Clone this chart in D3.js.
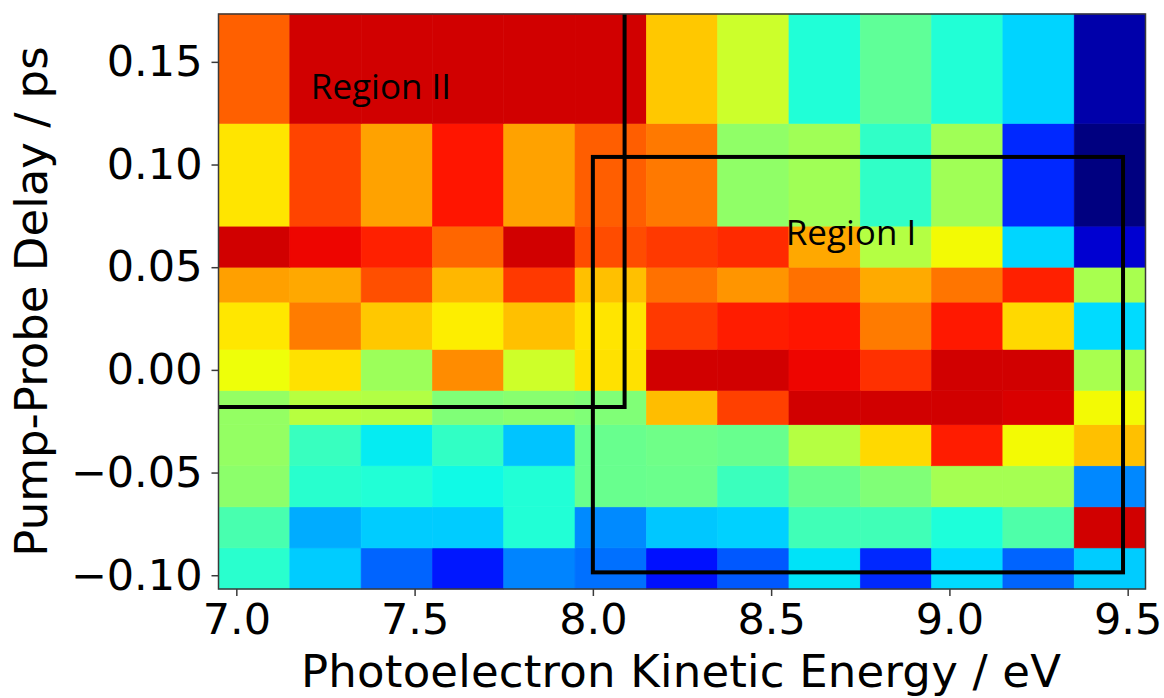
<!DOCTYPE html>
<html>
<head>
<meta charset="utf-8">
<script src="https://cdn.jsdelivr.net/npm/d3@7"></script>
<style>
  html, body { margin: 0; padding: 0; background: #fff; }
  svg { display: block; }
</style>
</head>
<body>
<svg id="chart" width="1164" height="698"></svg>
<script>
// ---------------- data ----------------
const energyCenters = [7.05, 7.25, 7.45, 7.65, 7.85, 8.05, 8.25, 8.45, 8.65, 8.85, 9.05, 9.25, 9.45];
const energyBinWidth = 0.2;
// delay bin edges (ps), bottom to top
const delayEdges = [-0.1067, -0.0867, -0.0667, -0.0467, -0.0267, -0.0100, 0.0100, 0.0330, 0.0500, 0.0700, 0.1200, 0.1733];
// normalised signal (0..1, jet colour map), rows bottom (lowest delay) to top
const intensity = [
  [0.40, 0.325, 0.223, 0.148, 0.254, 0.235, 0.141, 0.211, 0.348, 0.164, 0.340, 0.223, 0.325],
  [0.437, 0.294, 0.325, 0.325, 0.390, 0.260, 0.320, 0.330, 0.428, 0.428, 0.385, 0.445, 0.930],
  [0.52, 0.399, 0.390, 0.370, 0.390, 0.477, 0.480, 0.420, 0.477, 0.505, 0.550, 0.550, 0.258],
  [0.53, 0.418, 0.356, 0.410, 0.317, 0.477, 0.485, 0.477, 0.570, 0.680, 0.880, 0.645, 0.707],
  [0.53, 0.573, 0.567, 0.505, 0.515, 0.505, 0.710, 0.842, 0.930, 0.930, 0.930, 0.923, 0.645],
  [0.639, 0.672, 0.540, 0.762, 0.600, 0.672, 0.930, 0.930, 0.905, 0.859, 0.930, 0.930, 0.554],
  [0.665, 0.779, 0.698, 0.658, 0.707, 0.668, 0.850, 0.880, 0.888, 0.780, 0.885, 0.680, 0.340],
  [0.741, 0.732, 0.826, 0.716, 0.850, 0.707, 0.790, 0.752, 0.790, 0.730, 0.786, 0.876, 0.554],
  [0.930, 0.905, 0.876, 0.802, 0.930, 0.830, 0.850, 0.866, 0.732, 0.569, 0.645, 0.335, 0.070],
  [0.667, 0.838, 0.739, 0.888, 0.739, 0.810, 0.782, 0.525, 0.545, 0.408, 0.545, 0.164, 0.000],
  [0.808, 0.930, 0.930, 0.930, 0.930, 0.930, 0.698, 0.598, 0.389, 0.465, 0.390, 0.333, 0.037]
];
const xTicks = [7.0, 7.5, 8.0, 8.5, 9.0, 9.5];
const yTicks = [-0.10, -0.05, 0.00, 0.05, 0.10, 0.15];
const xDomain = [6.95, 9.55];
const yDomain = [-0.1067, 0.1733];
// region boxes [xMin, xMax, yMin, yMax] in data units
const regionIBox = [8.0, 9.487, -0.0986, 0.1037];
const regionIIBox = [6.95, 8.089, -0.0181, 0.1733];
const regionLabels = ["Region I", "Region II"];
const regionLabelPos = [[8.541, 0.0608], [7.209, 0.1319]];
const xTitle = "Photoelectron Kinetic Energy / eV";
const yTitle = "Pump-Probe Delay / ps";

// ---------------- jet colour map ----------------
function seg(points, t) {
  for (let i = 1; i < points.length; i++) {
    if (t <= points[i][0]) {
      const [x0, y0] = points[i - 1], [x1, y1] = points[i];
      return y0 + (y1 - y0) * (t - x0) / (x1 - x0);
    }
  }
  return points[points.length - 1][1];
}
const jetR = [[0, 0], [0.35, 0], [0.66, 1], [0.89, 1], [1, 0.5]];
const jetG = [[0, 0], [0.125, 0], [0.375, 1], [0.64, 1], [0.91, 0], [1, 0]];
const jetB = [[0, 0.5], [0.11, 1], [0.34, 1], [0.65, 0], [1, 0]];
function jet(t) {
  t = Math.max(0, Math.min(1, t));
  return d3.rgb(255 * seg(jetR, t), 255 * seg(jetG, t), 255 * seg(jetB, t)).toString();
}

// ---------------- layout ----------------
const svg = d3.select("#chart");
const plot = { left: 218.5, right: 1145.5, top: 14, bottom: 589 };
const x = d3.scaleLinear().domain(xDomain).range([plot.left, plot.right]);
const y = d3.scaleLinear().domain(yDomain).range([plot.bottom, plot.top]);

// cells
const cells = [];
intensity.forEach((row, i) => {
  row.forEach((v, j) => {
    cells.push({ e0: energyCenters[j] - energyBinWidth / 2, e1: energyCenters[j] + energyBinWidth / 2,
                 d0: delayEdges[i], d1: delayEdges[i + 1], v });
  });
});
svg.append("g").selectAll("rect").data(cells).join("rect")
  .attr("x", d => x(d.e0))
  .attr("y", d => y(d.d1))
  .attr("width", d => x(d.e1) - x(d.e0))
  .attr("height", d => y(d.d0) - y(d.d1))
  .attr("fill", d => jet(d.v))
  .attr("stroke", d => jet(d.v))
  .attr("stroke-width", 0.6);

// region boxes
const boxes = svg.append("g").attr("fill", "none").attr("stroke", "#000").attr("stroke-width", 4);
boxes.append("rect")
  .attr("x", x(regionIBox[0])).attr("y", y(regionIBox[3]))
  .attr("width", x(regionIBox[1]) - x(regionIBox[0]))
  .attr("height", y(regionIBox[2]) - y(regionIBox[3]));
boxes.append("path")
  .attr("d", d3.line()([[x(regionIIBox[0]), y(regionIIBox[2])], [x(regionIIBox[1]), y(regionIIBox[2])], [x(regionIIBox[1]), y(regionIIBox[3])]]))
  .attr("stroke-linecap", "butt")
  .attr("stroke-linejoin", "miter");

// region labels
svg.append("g").selectAll("text").data(regionLabels).join("text")
  .attr("x", (d, i) => x(regionLabelPos[i][0]))
  .attr("y", (d, i) => y(regionLabelPos[i][1]))
  .attr("font-family", "'Open Sans', 'Noto Sans', sans-serif")
  .attr("font-size", 35)
  .attr("fill", "#000")
  .text(d => d);

// frame
svg.append("rect")
  .attr("x", plot.left).attr("y", plot.top)
  .attr("width", plot.right - plot.left).attr("height", plot.bottom - plot.top)
  .attr("fill", "none").attr("stroke", "#3a3a3a").attr("stroke-width", 1.5);

// axes
const xAxis = svg.append("g").attr("transform", `translate(0,${plot.bottom})`)
  .call(d3.axisBottom(x).tickValues(xTicks).tickFormat(d3.format(".1f")).tickSize(7).tickPadding(7));
const yAxis = svg.append("g").attr("transform", `translate(${plot.left},0)`)
  .call(d3.axisLeft(y).tickValues(yTicks).tickFormat(d3.format(".2f")).tickSize(7).tickPadding(9));
[xAxis, yAxis].forEach(g => {
  g.select(".domain").remove();
  g.selectAll(".tick line").attr("stroke", "#3a3a3a").attr("stroke-width", 1.5);
  g.selectAll(".tick text").attr("font-family", "'DejaVu Sans', sans-serif").attr("font-size", 43).attr("fill", "#000");
});

// titles
svg.append("text")
  .attr("x", 301).attr("y", 687)
  .attr("font-family", "'DejaVu Sans', sans-serif").attr("font-size", 45)
  .attr("textLength", 760).attr("lengthAdjust", "spacing")
  .attr("fill", "#000")
  .text(xTitle);
svg.append("text")
  .attr("transform", `translate(47,${(plot.top + plot.bottom) / 2}) rotate(-90)`)
  .attr("text-anchor", "middle")
  .attr("font-family", "'DejaVu Sans', sans-serif").attr("font-size", 45)
  .attr("fill", "#000")
  .text(yTitle);
</script>
</body>
</html>
